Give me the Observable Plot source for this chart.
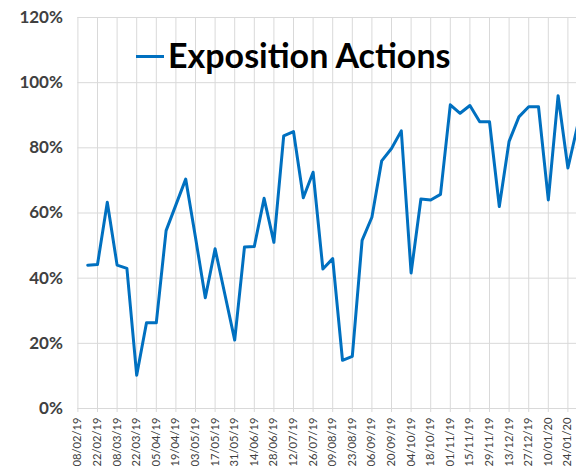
<!DOCTYPE html>
<html>
<head>
<meta charset="utf-8">
<script src="https://cdn.jsdelivr.net/npm/d3@7"></script>
<script src="https://cdn.jsdelivr.net/npm/@observablehq/plot@0.6"></script>
<style>
  html, body { margin: 0; padding: 0; background: #fff; }
  #chart { position: relative; width: 576px; height: 466px; overflow: hidden; }
  #legend { position: absolute; left: 136px; top: 33.5px; display: flex; align-items: center;
            font-family: Lato, "Open Sans", sans-serif; font-weight: bold; font-size: 34px; color: #000; white-space: nowrap; }
  #legend .swatch { display: inline-block; width: 28px; height: 3px; background: #0070C0; margin-right: 4px; margin-top: 4px; }
</style>
</head>
<body>
<div id="chart"><div id="legend"><span class="swatch"></span><span>Exposition Actions</span></div></div>
<script>
// Weekly observation dates (dd/mm/yy)
const dates = [
  "15/02/19","22/02/19","01/03/19","08/03/19","15/03/19","22/03/19","29/03/19","05/04/19","12/04/19","19/04/19",
  "26/04/19","03/05/19","10/05/19","17/05/19","24/05/19","31/05/19","07/06/19","14/06/19","21/06/19","28/06/19",
  "05/07/19","12/07/19","19/07/19","26/07/19","02/08/19","09/08/19","16/08/19","23/08/19","30/08/19","06/09/19",
  "13/09/19","20/09/19","27/09/19","04/10/19","11/10/19","18/10/19","25/10/19","01/11/19","08/11/19","15/11/19",
  "22/11/19","29/11/19","06/12/19","13/12/19","20/12/19","27/12/19","03/01/20","10/01/20","17/01/20","24/01/20",
  "31/01/20"
];
// Exposition Actions (%)
const values = [
  44.0, 44.2, 63.3, 44.0, 43.0, 10.2, 26.3, 26.3, 54.6, 62.5,
  70.4, 52.5, 34.0, 49.0, 35.0, 21.0, 49.6, 49.7, 64.5, 51.0,
  83.7, 85.0, 64.7, 72.5, 42.8, 46.0, 14.8, 16.0, 51.6, 58.7,
  76.0, 79.8, 85.2, 41.6, 64.3, 64.0, 65.7, 93.2, 90.6, 93.0,
  88.0, 88.0, 62.0, 82.0, 89.5, 92.6, 92.6, 64.0, 96.0, 73.8,
  87.0
];
// X tick labels
const xTickLabels = [
  "08/02/19","22/02/19","08/03/19","22/03/19","05/04/19","19/04/19","03/05/19","17/05/19","31/05/19","14/06/19",
  "28/06/19","12/07/19","26/07/19","09/08/19","23/08/19","06/09/19","20/09/19","04/10/19","18/10/19","01/11/19",
  "15/11/19","29/11/19","13/12/19","27/12/19","10/01/20","24/01/20"
];
// Y ticks (fractions)
const yTicks = [0, 0.2, 0.4, 0.6, 0.8, 1.0, 1.2];

const parse = d3.utcParse("%d/%m/%y");
const data = dates.map((d, i) => ({date: parse(d), value: values[i] / 100}));
const xTicks = xTickLabels.map(parse);
const labelOf = new Map(xTickLabels.map((s, i) => [+xTicks[i], s]));

const xStart = xTicks[0];
const xEnd = new Date(+xStart + 356.14 * 864e5);

const chart = Plot.plot({
  width: 576,
  height: 466,
  marginLeft: 77.4,
  marginRight: 0,
  marginTop: 17,
  marginBottom: 58,
  style: {fontFamily: "Lato, 'Open Sans', sans-serif", background: "#fff"},
  x: {type: "utc", domain: [xStart, xEnd]},
  y: {domain: [0, 1.2]},
  marks: [
    Plot.gridY(yTicks, {stroke: "#d9d9d9", strokeOpacity: 1, strokeWidth: 1}),
    Plot.gridX(xTicks, {stroke: "#d9d9d9", strokeOpacity: 1, strokeWidth: 1}),
    Plot.axisX(xTicks, {
      tickSize: 4, tickPadding: 5, tickRotate: -90,
      stroke: "#d9d9d9", strokeOpacity: 1, fill: "#404040",
      fontSize: 11.2, label: null,
      tickFormat: d => labelOf.get(+d)
    }),
    Plot.axisY(yTicks, {
      tickSize: 0, tickPadding: 15, fill: "#404040",
      fontSize: 17, fontWeight: "bold", label: null,
      tickFormat: d3.format(".0%")
    }),
    Plot.ruleY([0], {stroke: "#d9d9d9", strokeWidth: 1}),
    Plot.line(data, {x: "date", y: "value", stroke: "#0070C0", strokeWidth: 3, strokeLinejoin: "round", clip: true})
  ]
});
document.getElementById("chart").prepend(chart);
</script>
</body>
</html>
